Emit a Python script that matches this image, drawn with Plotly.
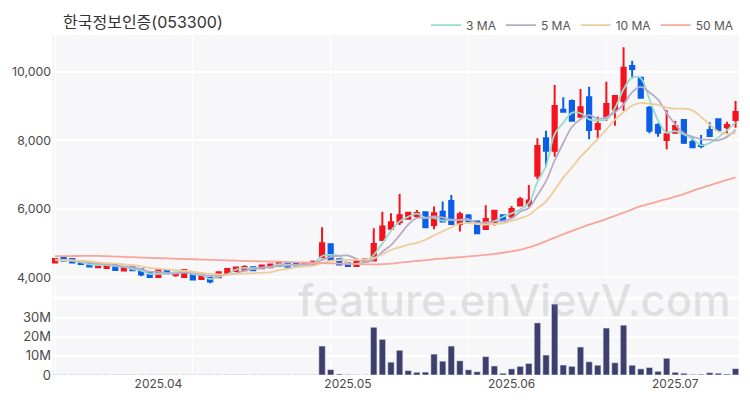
import plotly.graph_objects as go
from plotly.subplots import make_subplots

# trading days
dates = [f"2025-03-{d:02d}" for d in [14, 17, 18, 19, 20, 21, 24, 25, 26, 27, 28, 31]]
dates += [f"2025-04-{d:02d}" for d in [1, 2, 3, 4, 7, 8, 9, 10, 11, 14, 15, 16, 17, 18, 21, 22, 23, 24, 25, 28, 29, 30]]
dates += [f"2025-05-{d:02d}" for d in [2, 7, 8, 9, 12, 13, 14, 15, 16, 19, 20, 21, 22, 23, 26, 27, 28, 29, 30]]
dates += [f"2025-06-{d:02d}" for d in [2, 4, 5, 9, 10, 11, 12, 13, 16, 17, 18, 19, 20, 23, 24, 25, 26, 27, 30]]
dates += [f"2025-07-{d:02d}" for d in [1, 2, 3, 4, 7, 8, 9, 10]]

opens = [4433, 4598, 4540, 4472, 4433, 4297, 4277, 4355, 4200, 4297, 4238, 4131, 4015, 4219, 4063, 4015,
         4083, 3956, 3985, 4005, 4112, 4190, 4209, 4297, 4270, 4297, 4336, 4415, 4394, 4365, 4385, 4589,
         4968, 4530, 4413, 4336, 4461, 4491, 5094, 5425, 5610, 5717, 5795, 5902, 5532, 5921, 6233, 5562,
         5805, 5630, 5415, 5610, 5815, 5776, 6097, 6146, 6973, 8062, 7702, 8900, 9152, 8695, 9259, 8334,
         8675, 8909, 9152, 10173, 9833, 8958, 8451, 8013, 8227, 8597, 7955, 7868, 8305, 8617, 8384, 8597]
highs = [4560, 4610, 4550, 4480, 4440, 4385, 4400, 4360, 4315, 4305, 4245, 4135, 4215, 4235, 4150, 4225,
         4090, 4050, 4005, 4160, 4255, 4295, 4355, 4305, 4350, 4380, 4440, 4425, 4400, 4430, 4470, 5464,
         5000, 4540, 4420, 4490, 4530, 5435, 5921, 5873, 6436, 5921, 5970, 5910, 6068, 6214, 6408, 5921,
         5853, 5640, 6107, 5960, 5830, 6087, 6350, 6701, 8062, 8286, 9618, 9259, 9200, 9502, 9570, 8695,
         9716, 9327, 10720, 10330, 9845, 9006, 8500, 8890, 8568, 8610, 8110, 8160, 8530, 8625, 8548, 9153]
lows = [4420, 4480, 4425, 4390, 4305, 4268, 4270, 4190, 4195, 4200, 4034, 4005, 4010, 4115, 4020, 4010,
        3930, 3950, 3830, 4000, 4105, 4185, 4200, 4200, 4235, 4290, 4330, 4290, 4340, 4360, 4380, 4560,
        4510, 4370, 4330, 4330, 4450, 4480, 5090, 5420, 5532, 5690, 5727, 5440, 5405, 5620, 5555, 5338,
        5620, 5285, 5410, 5513, 5650, 5727, 6080, 6067, 6865, 7235, 7527, 8811, 8550, 8675, 8033, 8062,
        8568, 8432, 8870, 9813, 9220, 8208, 8110, 7745, 8220, 7897, 7790, 7770, 8120, 8257, 8189, 8374]
closes = [4540, 4491, 4433, 4394, 4316, 4375, 4394, 4219, 4306, 4209, 4083, 4015, 4209, 4122, 4131, 4219,
          3937, 4044, 3878, 4151, 4248, 4287, 4306, 4209, 4345, 4375, 4433, 4315, 4345, 4423, 4461, 4997,
          4520, 4375, 4336, 4482, 4520, 4978, 5484, 5610, 5815, 5892, 5882, 5464, 5873, 5630, 5562, 5843,
          5630, 5290, 5708, 5950, 5659, 6000, 6282, 6243, 7839, 7702, 9006, 8841, 8578, 8967, 8305, 8480,
          9064, 9298, 10125, 10086, 9250, 8285, 8227, 8179, 8422, 7936, 7800, 7838, 8130, 8305, 8451, 8830]

ma3 = [4520, 4510, 4488, 4440, 4381, 4362, 4362, 4330, 4306, 4245, 4200, 4102, 4102, 4115, 4154, 4157,
       4096, 4067, 3953, 4024, 4092, 4229, 4280, 4267, 4287, 4310, 4385, 4375, 4364, 4361, 4410, 4627,
       4660, 4631, 4410, 4398, 4446, 4660, 4994, 5357, 5636, 5772, 5863, 5746, 5740, 5656, 5688, 5678,
       5678, 5588, 5543, 5649, 5772, 5870, 5980, 6175, 6788, 7261, 8183, 8517, 8808, 8795, 8617, 8584,
       8616, 8947, 9496, 9836, 9820, 9207, 8587, 8230, 8276, 8179, 8053, 7858, 7923, 8091, 8295, 8529]
ma5 = [4500, 4505, 4500, 4470, 4435, 4402, 4382, 4340, 4322, 4286, 4243, 4166, 4164, 4128, 4112, 4139,
       4124, 4091, 4042, 4067, 4080, 4120, 4200, 4240, 4280, 4305, 4335, 4345, 4365, 4385, 4400, 4510,
       4600, 4630, 4640, 4542, 4440, 4530, 4750, 4945, 5230, 5540, 5735, 5733, 5785, 5750, 5680, 5680,
       5705, 5595, 5610, 5640, 5645, 5720, 5920, 6027, 6405, 6813, 7415, 7926, 8393, 8619, 8739, 8634,
       8679, 8823, 9054, 9411, 9565, 9409, 9195, 8805, 8473, 8210, 8113, 8035, 8025, 8002, 8105, 8311]
ma10 = [4510, 4505, 4495, 4485, 4470, 4440, 4420, 4400, 4380, 4355, 4322, 4275, 4255, 4228, 4210, 4195,
        4165, 4130, 4100, 4090, 4080, 4105, 4115, 4120, 4135, 4150, 4210, 4250, 4300, 4325, 4345, 4420,
        4480, 4505, 4505, 4510, 4515, 4570, 4680, 4800, 4880, 4960, 5010, 5100, 5230, 5350, 5460, 5570,
        5590, 5560, 5550, 5560, 5580, 5650, 5730, 5815, 6025, 6215, 6555, 6915, 7210, 7520, 7780, 8040,
        8320, 8610, 8820, 9020, 9100, 9075, 9040, 8960, 8930, 8930, 8880, 8690, 8460, 8260, 8190, 8212]
ma50 = [4620, 4622, 4625, 4627, 4628, 4628, 4620, 4610, 4600, 4590, 4580, 4570, 4562, 4555, 4545, 4538,
        4530, 4522, 4515, 4505, 4497, 4490, 4482, 4475, 4470, 4465, 4460, 4450, 4442, 4435, 4425, 4418,
        4410, 4402, 4395, 4390, 4382, 4378, 4385, 4400, 4433, 4455, 4480, 4505, 4530, 4550, 4568, 4590,
        4612, 4635, 4657, 4685, 4720, 4760, 4803, 4880, 4960, 5060, 5160, 5260, 5360, 5450, 5540, 5620,
        5710, 5800, 5890, 5990, 6080, 6150, 6220, 6290, 6360, 6430, 6530, 6610, 6690, 6770, 6850, 6925]

volume = [0.1] * 31 + [15.1, 2.8, 0.5, 0.2, 0.1, 0.1, 24.9, 18.6, 6.7, 12.9, 2.3, 1.4, 1.5, 10.9, 7.2, 15.1,
                       7.4, 2.7, 1.7, 9.6, 4.7, 0.9, 3.2, 4.5, 6.0, 27.2, 10.4, 37.0, 5.2, 4.5, 14.6, 6.9,
                       5.1, 24.5, 6.4, 26.0, 5.1, 3.2, 3.9, 1.9, 8.7, 1.4, 0.9, 0.3, 0.4, 1.2, 0.9, 0.5, 3.3]
volume = [v * 1e6 for v in volume]

ma_series = [("3 MA", ma3, "#96dccf"), ("5 MA", ma5, "#b9aac8"), ("10 MA", ma10, "#eccd9c"), ("50 MA", ma50, "#f8a59c")]
x_ticks = ["2025-04-01", "2025-05-02", "2025-06-02", "2025-07-01"]
x_labels = ["2025.04", "2025.05", "2025.06", "2025.07"]
grid_dates = dates[::16]
price_ticks = [4000, 6000, 8000, 10000]
vol_ticks = [0, 10e6, 20e6, 30e6]
vol_labels = ["0", "10M", "20M", "30M"]

fig = make_subplots(rows=2, cols=1, shared_xaxes=True, vertical_spacing=0.0097, row_heights=[0.777, 0.223])

fig.add_trace(
    go.Candlestick(
        x=dates,
        open=opens,
        high=highs,
        low=lows,
        close=closes,
        increasing=dict(line=dict(color="#f5141e", width=2), fillcolor="#f5141e"),
        decreasing=dict(line=dict(color="#0a5fe6", width=2), fillcolor="#0a5fe6"),
        showlegend=False,
    ),
    row=1,
    col=1,
)

for name, values, color in ma_series:
    fig.add_trace(
        go.Scatter(x=dates, y=values, mode="lines", name=name, line=dict(color=color, width=1.8, shape="spline")),
        row=1,
        col=1,
    )

fig.add_trace(go.Bar(x=dates, y=volume, marker_color="#3f3f6d", showlegend=False), row=2, col=1)

# the page body adds 8px around the figure
fig.update_layout(
    width=742,
    height=392,
    margin=dict(l=44, r=11, t=27, b=25, autoexpand=False),
    paper_bgcolor="white",
    plot_bgcolor="#f7f7f9",
    bargap=0.26,
    font=dict(family="Inter, Noto Sans CJK KR", size=13, color="#4a4a4a"),
    xaxis_rangeslider_visible=False,
    legend=dict(
        orientation="h",
        x=1.0,
        xanchor="right",
        y=1.029,
        yanchor="middle",
        font=dict(size=12, color="#555"),
        bgcolor="rgba(0,0,0,0)",
    ),
    annotations=[
        dict(
            text="한국정보인증(053300)",
            xref="paper",
            yref="paper",
            x=0.013,
            xanchor="left",
            y=1.038,
            yanchor="middle",
            showarrow=False,
            font=dict(size=16, color="#333"),
        ),
        dict(
            text="feature.enVievV.com",
            xref="paper",
            yref="paper",
            x=0.991,
            xanchor="right",
            y=0.22,
            yanchor="middle",
            showarrow=False,
            font=dict(family="Inter", size=43.5, weight=500, color="rgba(120,120,120,0.2)"),
        ),
    ],
)

for row in (1, 2):
    fig.update_xaxes(
        type="category",
        range=[-0.35, 79.4],
        tickmode="array",
        tickvals=x_ticks,
        ticktext=x_labels,
        showgrid=False,
        ticks="",
        minor=dict(tickmode="array", tickvals=grid_dates, showgrid=True, gridcolor="white", gridwidth=1, ticks=""),
        rangeslider_visible=False,
        row=row,
        col=1,
    )
fig.update_xaxes(tickfont=dict(size=12), row=2, col=1)
fig.update_yaxes(
    range=[3439, 11081], tickvals=price_ticks, tickformat=",", tickfont=dict(size=12.3), gridcolor="white",
    gridwidth=1.5, zeroline=False, ticks="", row=1, col=1,
)
fig.update_yaxes(
    range=[0, 39.2e6], tickmode="array", tickvals=vol_ticks, ticktext=vol_labels, gridcolor="white", gridwidth=1.5,
    zeroline=False, ticks="", row=2, col=1,
)

fig.write_html("out.html")
